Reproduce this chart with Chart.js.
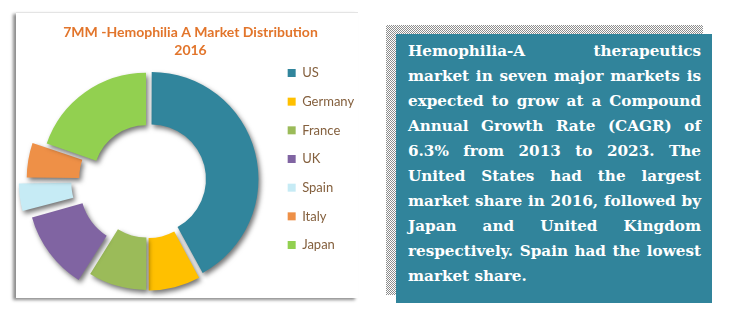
<!DOCTYPE html>
<html>
<head>
<meta charset="utf-8">
<script src="https://cdn.jsdelivr.net/npm/chart.js@4.4.1/dist/chart.umd.min.js"></script>
<style>
  html, body { margin: 0; padding: 0; background: #ffffff; }
  body { width: 729px; height: 325px; position: relative; overflow: hidden; }
  #panel {
    position: absolute; left: 16px; top: 12px; width: 342px; height: 285px;
    background: #ffffff; border-top: 1px solid #e4e4e4;
    box-shadow: -3px 2px 3px rgba(0,0,0,0.45);
  }
  #chartWrap { position: absolute; left: 16px; top: 0px; width: 366px; height: 301px; }
  #shadowBox {
    position: absolute; left: 386px; top: 25px; width: 317px; height: 270px;
    background: repeating-conic-gradient(#8c8c8c 0 25%, #ffffff 0 50%) 0 0 / 2px 2px;
  }
  #textBox {
    position: absolute; left: 396px; top: 34px; width: 316px; height: 269px;
    background: #31849B; box-sizing: border-box; padding: 5px 11px 0 12px;
    color: #ffffff; font-family: "DejaVu Serif", serif;
    font-weight: bold; font-size: 15.2px; line-height: 25px;
  }
  #textBox .ln { text-align: justify; text-align-last: justify; white-space: nowrap; }
  #textBox .ln.last { text-align-last: left; }
</style>
</head>
<body>
<div id="panel"></div>
<div id="chartWrap"><canvas id="c" width="366" height="301"></canvas></div>
<div id="shadowBox"></div>
<div id="textBox"></div>
<script>
// ---- data ----
const categories = ['US', 'Germany', 'France', 'UK', 'Spain', 'Italy', 'Japan'];
const shares = [42.1, 7.9, 8.9, 11.8, 4.3, 5.3, 19.7];
const titleLines = ['7MM -Hemophilia A Market Distribution', '2016'];
const noteLines = [
  'Hemophilia-A therapeutics',
  'market in seven major markets is',
  'expected to grow at a Compound',
  'Annual Growth Rate (CAGR) of',
  '6.3% from 2013 to 2023. The',
  'United States had the largest',
  'market share in 2016, followed by',
  'Japan and United Kingdom',
  'respectively. Spain had the lowest',
  'market share.'
];

// ---- styles ----
const sliceColors = ['#31859C', '#FFC000', '#9BBB59', '#8064A2', '#C6EBF5', '#EE9047', '#92D050'];
const sliceExplode = [16, 15, 14, 52, 55, 38, 10];

// note text
const tb = document.getElementById('textBox');
noteLines.forEach((t, i) => {
  const d = document.createElement('div');
  d.className = 'ln' + (i === noteLines.length - 1 ? ' last' : '');
  d.textContent = t;
  tb.appendChild(d);
});

const sliceShadow = {
  id: 'sliceShadow',
  beforeDatasetsDraw(chart) {
    const ctx = chart.ctx;
    ctx.save();
    ctx.shadowColor = 'rgba(0,0,0,0.55)';
    ctx.shadowBlur = 5;
    ctx.shadowOffsetX = 2;
    ctx.shadowOffsetY = 3;
  },
  afterDatasetsDraw(chart) { chart.ctx.restore(); }
};

new Chart(document.getElementById('c'), {
  type: 'doughnut',
  data: {
    labels: categories,
    datasets: [{
      data: shares,
      backgroundColor: sliceColors,
      borderWidth: 0,
      offset: sliceExplode,
      hoverOffset: 0
    }]
  },
  options: {
    responsive: false,
    animation: false,
    radius: 105,
    cutout: '50%',
    layout: { padding: { left: 7, right: 24, top: 0, bottom: 0 } },
    plugins: {
      tooltip: { enabled: false },
      title: {
        display: true,
        text: titleLines,
        color: '#E2752B',
        font: { family: 'Lato', size: 14, weight: 'bold', lineHeight: '18px' },
        padding: { top: 23, bottom: 0 }
      },
      legend: {
        position: 'right',
        maxWidth: 86,
        title: { display: true, text: ' ', font: { size: 10, lineHeight: '17px' }, padding: 0 },
        labels: {
          boxWidth: 8, boxHeight: 8, padding: 15.67,
          color: '#84603E',
          font: { family: 'Lato', size: 13 }
        }
      }
    }
  },
  plugins: [sliceShadow]
});
</script>
</body>
</html>
